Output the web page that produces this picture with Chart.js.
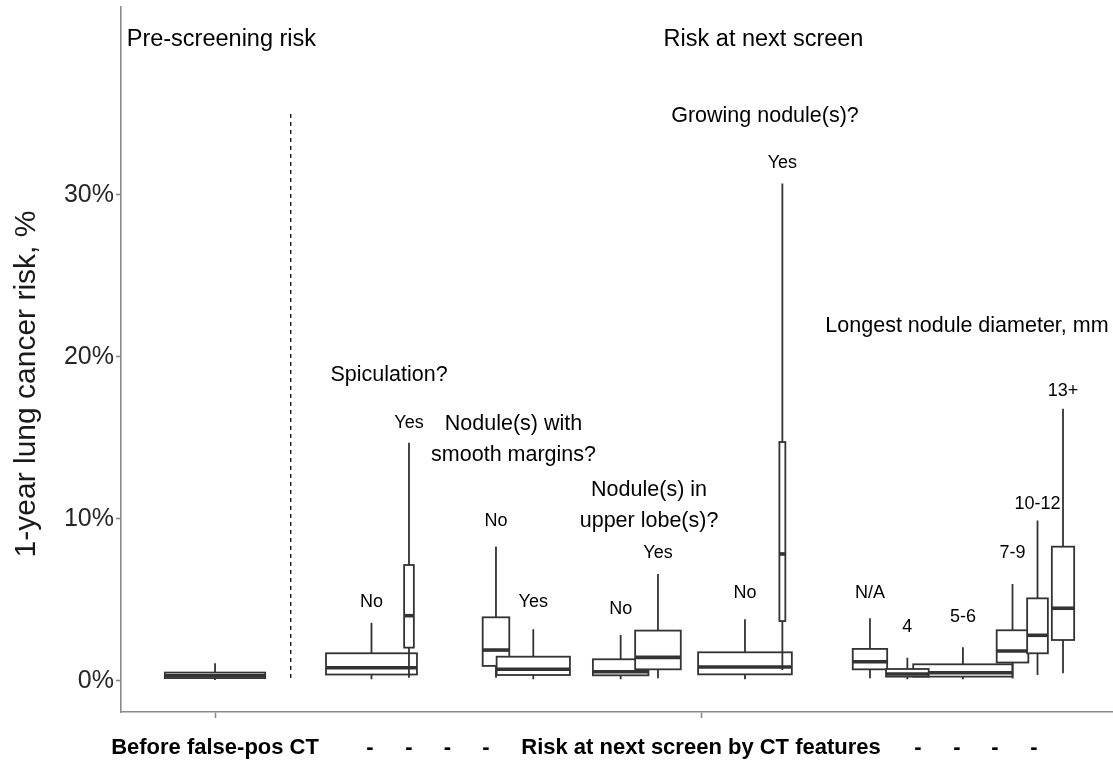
<!DOCTYPE html>
<html>
<head>
<meta charset="utf-8">
<title>1-year lung cancer risk</title>
<script src="https://cdn.jsdelivr.net/npm/chart.js@4.4.1/dist/chart.umd.min.js"></script>
<style>
  html, body { margin: 0; padding: 0; background: #ffffff; }
  #wrap { width: 1113px; height: 763px; }
</style>
</head>
<body>
<div id="wrap"><canvas id="chart" width="1113" height="763"></canvas></div>
<script>
// ---- Data: 1-year lung cancer risk (%), box summaries in drawing order ----
const boxNames    = ['', 'No', 'Yes', 'No', 'Yes', 'No', 'Yes', 'No', 'Yes', 'N/A', '5-6', '4', '7-9', '10-12', '13+'];
const whiskerLow  = [0.06, 0.10, 0.20, 0.20, 0.10, 0.10, 0.17, 0.10, 0.68, 0.17, 0.10, 0.10, 0.15, 0.37, 0.48];
const quartile1   = [0.18, 0.40, 2.06, 0.93, 0.37, 0.35, 0.72, 0.41, 3.70, 0.72, 0.27, 0.27, 1.14, 1.71, 2.53];
const medians     = [0.32, 0.82, 4.03, 1.91, 0.72, 0.57, 1.46, 0.86, 7.84, 1.19, 0.51, 0.43, 1.85, 2.82, 4.49];
const quartile3   = [0.52, 1.71, 7.16, 3.93, 1.50, 1.34, 3.11, 1.77, 14.75, 1.98, 1.03, 0.74, 3.13, 5.10, 8.29];
const whiskerHigh = [1.10, 3.60, 14.70, 8.30, 3.19, 2.84, 6.60, 3.81, 30.70, 3.87, 2.08, 1.44, 5.99, 9.90, 16.80];

// Axis tick labels
const xTickLabels = ['Before false-pos CT', '-', '-', '-', '-', 'Risk at next screen by CT features', '-', '-', '-', '-'];
const yTickValues = [0, 10, 20, 30];

// Group headings
const groupTitles = [['Spiculation?'], ['Nodule(s) with', 'smooth margins?'], ['Nodule(s) in', 'upper lobe(s)?'],
                     ['Growing nodule(s)?'], ['Longest nodule diameter, mm']];
const panelTitles = ['Pre-screening risk', 'Risk at next screen'];

// ---- Layout (axis units: x 0-100 across the panel, y in %) ----
const layoutCfg = {
  boxX:      [9.48, 25.25, 29.03, 37.80, 41.56, 50.37, 54.13, 62.90, 66.67, 75.50, 84.87, 79.27, 89.87, 92.39, 94.96],
  boxWidth:  [10.11, 9.17, 0.98, 2.68, 7.39, 5.60, 4.60, 9.45, 0.60, 3.47, 10.02, 4.30, 3.19, 2.09, 2.25],
  labelY:    [null, 4.88, 15.9, 9.9, 4.9, 4.44, 7.9, 5.45, 31.96, 5.41, 3.93, 3.35, 7.92, 10.93, 17.9],
  xTickPos:  [9.48, 25.10, 29.03, 32.91, 36.79, 58.47, 80.34, 84.27, 88.10, 92.04],
  xTickMark: [true, false, false, false, false, true, false, false, false, false],
  groupX:    [27.02, 39.57, 53.23, 64.92, 85.28],
  groupY:    [18.89, 14.9, 10.83, 34.88, 21.91],
  panelX:    [10.12, 64.77],
  panelY:    39.6,
  dividerX:  17.11,
  dividerTop: 35
};

const FONT = '"Liberation Sans", Arial, Helvetica, sans-serif';
const AXIS_GREY = '#8a8a8a';
const INK = '#333333';

const boxPlotPlugin = {
  id: 'boxPlot',
  afterDatasetsDraw(chart) {
    const { ctx, scales: { x, y } } = chart;
    const L = layoutCfg;
    ctx.save();

    // dashed divider between the two panels
    ctx.strokeStyle = '#000';
    ctx.lineWidth = 1.3;
    ctx.setLineDash([4, 4]);
    ctx.beginPath();
    const dx = x.getPixelForValue(L.dividerX);
    ctx.moveTo(dx, y.getPixelForValue(L.dividerTop));
    ctx.lineTo(dx, y.getPixelForValue(0));
    ctx.stroke();
    ctx.setLineDash([]);

    // boxes with whiskers
    for (let i = 0; i < medians.length; i++) {
      const xc = x.getPixelForValue(L.boxX[i]);
      const xl = x.getPixelForValue(L.boxX[i] - L.boxWidth[i] / 2);
      const xr = x.getPixelForValue(L.boxX[i] + L.boxWidth[i] / 2);
      const yLo = y.getPixelForValue(whiskerLow[i]);
      const yQ1 = y.getPixelForValue(quartile1[i]);
      const yMd = y.getPixelForValue(medians[i]);
      const yQ3 = y.getPixelForValue(quartile3[i]);
      const yHi = y.getPixelForValue(whiskerHigh[i]);

      ctx.strokeStyle = INK;
      ctx.lineWidth = 1.8;
      ctx.beginPath();
      ctx.moveTo(xc, yLo); ctx.lineTo(xc, yQ1);
      ctx.moveTo(xc, yQ3); ctx.lineTo(xc, yHi);
      ctx.stroke();

      ctx.fillStyle = '#ffffff';
      ctx.fillRect(xl, yQ3, xr - xl, yQ1 - yQ3);
      ctx.strokeRect(xl, yQ3, xr - xl, yQ1 - yQ3);

      ctx.lineWidth = 3.6;
      ctx.beginPath();
      ctx.moveTo(xl, yMd); ctx.lineTo(xr, yMd);
      ctx.stroke();
    }

    // category labels above each box
    ctx.fillStyle = '#000';
    ctx.textAlign = 'center';
    ctx.textBaseline = 'middle';
    ctx.font = '18px ' + FONT;
    boxNames.forEach((name, i) => {
      if (!name) return;
      ctx.fillText(name, x.getPixelForValue(L.boxX[i]), y.getPixelForValue(L.labelY[i]));
    });

    // group headings
    ctx.font = '21.5px ' + FONT;
    const lh = 31;
    groupTitles.forEach((lines, g) => {
      const gx = x.getPixelForValue(L.groupX[g]);
      const gy = y.getPixelForValue(L.groupY[g]) - (lines.length - 1) * lh / 2;
      lines.forEach((t, k) => ctx.fillText(t, gx, gy + k * lh));
    });

    // panel headings
    ctx.font = '23.5px ' + FONT;
    panelTitles.forEach((t, k) => ctx.fillText(t, x.getPixelForValue(L.panelX[k]), y.getPixelForValue(L.panelY)));

    // y-axis title
    ctx.font = '30px ' + FONT;
    ctx.fillStyle = '#1a1a1a';
    ctx.translate(35, 384);
    ctx.rotate(-Math.PI / 2);
    ctx.textBaseline = 'alphabetic';
    ctx.fillText('1-year lung cancer risk, %', 0, 0);
    ctx.restore();
  }
};

new Chart(document.getElementById('chart'), {
  type: 'scatter',
  data: {
    datasets: [{
      data: medians.map((m, i) => ({ x: layoutCfg.boxX[i], y: m })),
      pointRadius: 0,
      pointHoverRadius: 0
    }]
  },
  options: {
    responsive: false,
    animation: false,
    devicePixelRatio: 1,
    layout: { padding: { top: 7, left: 0, right: 0, bottom: 0 } },
    plugins: { legend: { display: false }, tooltip: { enabled: false } },
    scales: {
      x: {
        type: 'linear',
        min: 0,
        max: 100,
        afterBuildTicks: s => { s.ticks = layoutCfg.xTickPos.map(v => ({ value: v })); },
        afterFit: s => { s.height = 51; s.paddingLeft = 0; s.paddingRight = 0; },
        border: { display: true, color: AXIS_GREY, width: 1.6 },
        grid: {
          drawOnChartArea: false,
          drawTicks: true,
          tickLength: 6,
          tickWidth: 1.6,
          tickColor: c => layoutCfg.xTickMark[c.index] ? AXIS_GREY : 'rgba(0,0,0,0)'
        },
        ticks: {
          autoSkip: false,
          maxRotation: 0,
          padding: 17,
          color: '#000',
          font: { family: FONT, size: 22, weight: 'bold' },
          callback: (v, i) => xTickLabels[i]
        }
      },
      y: {
        type: 'linear',
        min: -1.914,
        max: 41.6,
        afterBuildTicks: s => { s.ticks = yTickValues.map(v => ({ value: v })); },
        afterFit: s => { s.width = 121; s.paddingTop = 0; s.paddingBottom = 0; },
        border: { display: true, color: AXIS_GREY, width: 1.6 },
        grid: {
          drawOnChartArea: false,
          drawTicks: true,
          tickLength: 5,
          tickWidth: 1.6,
          tickColor: AXIS_GREY
        },
        ticks: {
          padding: 2,
          color: '#262626',
          font: { family: FONT, size: 25 },
          callback: v => v + '%'
        }
      }
    }
  },
  plugins: [boxPlotPlugin]
});
</script>
</body>
</html>
